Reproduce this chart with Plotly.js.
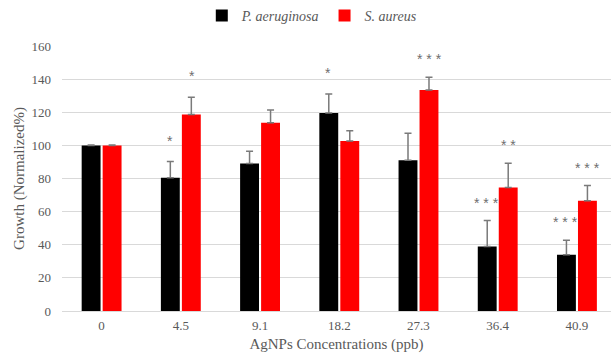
<!DOCTYPE html>
<html>
<head>
<meta charset="utf-8">
<script src="https://cdn.plot.ly/plotly-3.0.1.min.js"></script>
<style>html,body{margin:0;padding:0;background:#fff;}#chart{width:611px;height:355px;}</style>
</head>
<body>
<div id="chart"></div>
<script>
var categories = ["0", "4.5", "9.1", "18.2", "27.3", "36.4", "40.9"];
var paValues = [100, 80.5, 89, 119.5, 91, 39, 34];
var paErrors = [0.3, 9.7, 7.5, 11.5, 16.3, 15.6, 8.7];
var saValues = [100, 118.7, 113.7, 102.7, 133.5, 74.5, 66.6];
var saErrors = [0.3, 10.3, 7.7, 6.2, 7.6, 14.7, 9.1];
var paSig = ["", "*", "", "*", "", "***", "***"];
var saSig = ["", "*", "", "", "***", "**", "***"];

var grey = "#595959";
var serif = "Liberation Serif";

function bar(name, vals, errs, color) {
  return {
    type: "bar", name: name, x: categories, y: vals,
    marker: {color: color},
    error_y: {type: "data", symmetric: false, array: errs,
      arrayminus: errs.map(function(){return 0;}),
      color: "#7a7a7a", thickness: 1.5, width: 3.5}
  };
}

var traces = [
  bar("P. aeruginosa", paValues, paErrors, "#000000"),
  bar("S. aureus", saValues, saErrors, "#ff0000")
];

var annotations = [];
function addStars(sig, vals, errs, shift) {
  for (var i = 0; i < categories.length; i++) {
    if (!sig[i]) continue;
    annotations.push({
      x: i, y: vals[i] + errs[i], xref: "x", yref: "y",
      text: sig[i].split("").join(" "), showarrow: false,
      xshift: shift, yshift: sig[i].length > 1 ? 18 : 21, yanchor: "middle", xanchor: "center",
      font: {family: "Liberation Sans", size: 14, color: "#6e6e6e"}
    });
  }
}
addStars(paSig, paValues, paErrors, -11);
addStars(saSig, saValues, saErrors, 11);

var layout = {
  width: 611, height: 355,
  margin: {l: 62, r: 0, t: 46, b: 44},
  paper_bgcolor: "#ffffff", plot_bgcolor: "#ffffff",
  font: {family: serif, size: 13, color: grey},
  barmode: "group", bargap: 0.47, bargroupgap: 0.1,
  showlegend: true,
  legend: {orientation: "h", x: 0.455, xanchor: "center", y: 1.115, yanchor: "middle",
    font: {family: serif, size: 14, color: grey, style: "italic"},
    itemwidth: 30, traceorder: "normal"},
  xaxis: {
    type: "category", range: [-0.5, 6.43],
    showgrid: false, zeroline: false, showline: false,
    ticks: "", ticklabelstandoff: 5, tickfont: {family: serif, size: 13, color: grey},
    title: {text: "AgNPs Concentrations (ppb)", font: {family: serif, size: 15, color: grey}, standoff: 6}
  },
  yaxis: {
    range: [0, 160], dtick: 20, tick0: 0,
    showgrid: true, gridcolor: "#d9d9d9", gridwidth: 1,
    zeroline: true, zerolinecolor: "#d9d9d9", zerolinewidth: 1,
    showline: false, ticks: "", ticklabelstandoff: 10,
    tickfont: {family: serif, size: 13, color: grey},
    title: {text: "Growth (Normalized%)", font: {family: serif, size: 15, color: grey}, standoff: 3}
  },
  annotations: annotations
};

Plotly.newPlot("chart", traces, layout, {displayModeBar: false, responsive: false});
</script>
</body>
</html>
